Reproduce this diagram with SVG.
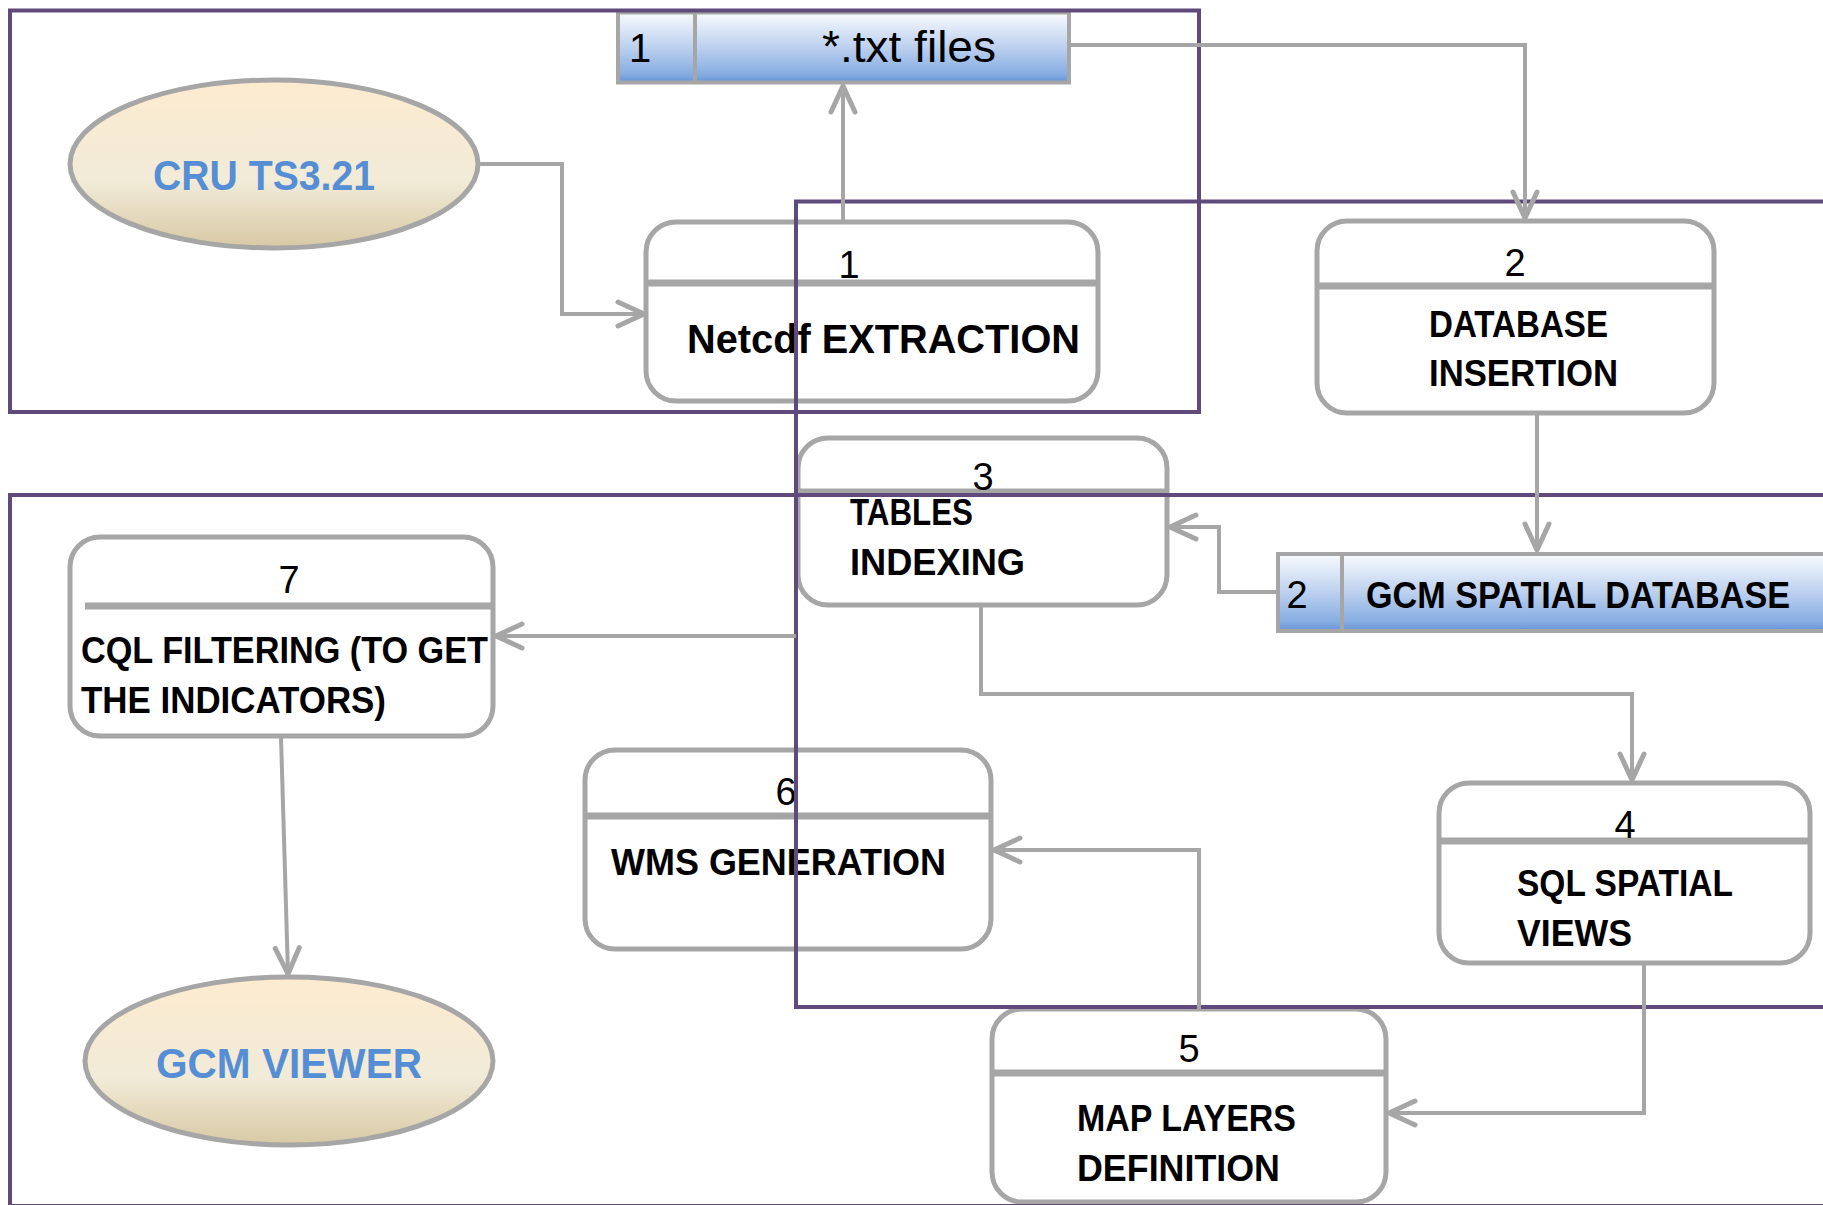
<svg xmlns="http://www.w3.org/2000/svg" width="1823" height="1205" viewBox="0 0 1823 1205">
<style>
.box{fill:#fff;stroke:#A6A6A6;stroke-width:5}
.div{stroke:#A6A6A6;stroke-width:7}
.store{fill:url(#sg);stroke:#A6A6A6;stroke-width:4}
.ell{fill:url(#eg);stroke:#A6A6A6;stroke-width:5}
.num{font-family:"Liberation Sans",Arial,sans-serif;font-size:38px;fill:#000;text-anchor:middle}
.lbl{font-family:"Liberation Sans",Arial,sans-serif;font-weight:bold;font-size:36px;fill:#000}
.ext{font-family:"Liberation Sans",Arial,sans-serif;font-weight:bold;font-size:42px;fill:#558ED5}
.con{fill:none;stroke:#A6A6A6;stroke-width:4;marker-end:url(#arr)}
.frame{fill:none;stroke:#604A7B;stroke-width:4}
</style>
<defs>
<linearGradient id="sg" x1="0" y1="0" x2="0" y2="1">
<stop offset="0" stop-color="#F9FBFE"/>
<stop offset="0.5" stop-color="#BCD0EF"/>
<stop offset="0.88" stop-color="#86ADE2"/>
<stop offset="1" stop-color="#6593D8"/>
</linearGradient>
<linearGradient id="eg" x1="0" y1="0" x2="0" y2="1">
<stop offset="0" stop-color="#FDEBCF"/>
<stop offset="0.6" stop-color="#F1EBD8"/>
<stop offset="1" stop-color="#D8C9A4"/>
</linearGradient>
<marker id="arr" markerUnits="userSpaceOnUse" viewBox="-32 -18 36 36" markerWidth="36" markerHeight="36" refX="0" refY="0" orient="auto">
<path d="M-26,-12 L0,0 L-26,12" fill="none" stroke="#A6A6A6" stroke-width="5" stroke-linecap="round" stroke-linejoin="round"/>
</marker>
</defs>
<rect width="1823" height="1205" fill="#fff"/>

<g id="store1">
<rect class="store" x="618" y="12.5" width="451" height="70"/>
<line x1="695" y1="12.5" x2="695" y2="82.5" stroke="#A6A6A6" stroke-width="4"/>
<text class="num" x="640" y="62" style="font-size:40px">1</text>
<text x="822" y="62" font-family="Liberation Sans, Arial, sans-serif" font-size="44" textLength="174" lengthAdjust="spacingAndGlyphs">*.txt files</text>
</g>

<g id="cru">
<ellipse class="ell" cx="274" cy="164" rx="204" ry="84"/>
<text class="ext" x="153" y="190" textLength="222" lengthAdjust="spacingAndGlyphs">CRU TS3.21</text>
</g>

<g id="node1">
<rect class="box" x="646" y="222" width="452" height="179" rx="30"/>
<line class="div" x1="646" y1="283" x2="1098" y2="283"/>
<text class="num" x="849" y="278">1</text>
<text class="lbl" x="687" y="353" style="font-size:40px" textLength="393" lengthAdjust="spacingAndGlyphs">Netcdf EXTRACTION</text>
</g>

<g id="node2">
<rect class="box" x="1317" y="221" width="397" height="192" rx="30"/>
<line class="div" x1="1317" y1="286" x2="1714" y2="286"/>
<text class="num" x="1515" y="276">2</text>
<text class="lbl" x="1429" y="337" textLength="179" lengthAdjust="spacingAndGlyphs">DATABASE</text>
<text class="lbl" x="1429" y="386" textLength="189" lengthAdjust="spacingAndGlyphs">INSERTION</text>
</g>

<g id="node3">
<rect class="box" x="798" y="438" width="369" height="167" rx="30"/>
<line class="div" x1="798" y1="492" x2="1167" y2="492"/>
<text class="num" x="983" y="490">3</text>
<text class="lbl" x="850" y="525" textLength="123" lengthAdjust="spacingAndGlyphs">TABLES</text>
<text class="lbl" x="850" y="575" textLength="175" lengthAdjust="spacingAndGlyphs">INDEXING</text>
</g>

<g id="store2">
<rect class="store" x="1278" y="554" width="560" height="77"/>
<line x1="1342" y1="554" x2="1342" y2="631" stroke="#A6A6A6" stroke-width="4"/>
<text class="num" x="1297" y="608">2</text>
<text class="lbl" x="1366" y="608" textLength="424" lengthAdjust="spacingAndGlyphs">GCM SPATIAL DATABASE</text>
</g>

<g id="node7">
<rect class="box" x="70" y="537" width="423" height="199" rx="30"/>
<line class="div" x1="85" y1="606" x2="491" y2="606"/>
<text class="num" x="289" y="593">7</text>
<text class="lbl" x="81" y="663" textLength="407" lengthAdjust="spacingAndGlyphs">CQL FILTERING (TO GET</text>
<text class="lbl" x="81" y="713" textLength="305" lengthAdjust="spacingAndGlyphs">THE INDICATORS)</text>
</g>

<g id="node6">
<rect class="box" x="585" y="750" width="406" height="199" rx="30"/>
<line class="div" x1="585" y1="816" x2="991" y2="816"/>
<text class="num" x="786" y="805">6</text>
<text class="lbl" x="611" y="875" textLength="335" lengthAdjust="spacingAndGlyphs">WMS GENERATION</text>
</g>

<g id="node4">
<rect class="box" x="1439" y="783" width="371" height="180" rx="30"/>
<line class="div" x1="1439" y1="841" x2="1810" y2="841"/>
<text class="num" x="1625" y="838">4</text>
<text class="lbl" x="1517" y="896" textLength="216" lengthAdjust="spacingAndGlyphs">SQL SPATIAL</text>
<text class="lbl" x="1517" y="946" textLength="115" lengthAdjust="spacingAndGlyphs">VIEWS</text>
</g>

<g id="node5">
<rect class="box" x="992" y="1009" width="394" height="193" rx="30"/>
<line class="div" x1="992" y1="1073" x2="1386" y2="1073"/>
<text class="num" x="1189" y="1062">5</text>
<text class="lbl" x="1077" y="1131" textLength="219" lengthAdjust="spacingAndGlyphs">MAP LAYERS</text>
<text class="lbl" x="1077" y="1181" textLength="203" lengthAdjust="spacingAndGlyphs">DEFINITION</text>
</g>

<g id="viewer">
<ellipse class="ell" cx="289" cy="1061" rx="204" ry="84"/>
<text class="ext" x="156" y="1078" textLength="266" lengthAdjust="spacingAndGlyphs">GCM VIEWER</text>
</g>

<g id="frames">
<rect class="frame" x="10" y="10.5" width="1189" height="401.5"/>
<rect class="frame" x="796" y="201.5" width="1040" height="805.5"/>
<rect class="frame" x="10" y="495" width="1830" height="711"/>
</g>

<g id="connectors">
<path class="con" d="M478,164 H562 V314 H644"/>
<path class="con" d="M843,222 V86"/>
<path class="con" d="M1070,45 H1525 V218"/>
<path class="con" d="M1537,413 V550"/>
<path class="con" d="M1278,592 H1219 V527 H1170"/>
<path class="con" d="M981,605 V694 H1632 V780"/>
<path class="con" d="M1644,963 V1113 H1389"/>
<path class="con" d="M1199,1009 V850 H994"/>
<path class="con" d="M796,636 H496"/>
<path class="con" d="M281,737 L288,974"/>
</g>
</svg>
